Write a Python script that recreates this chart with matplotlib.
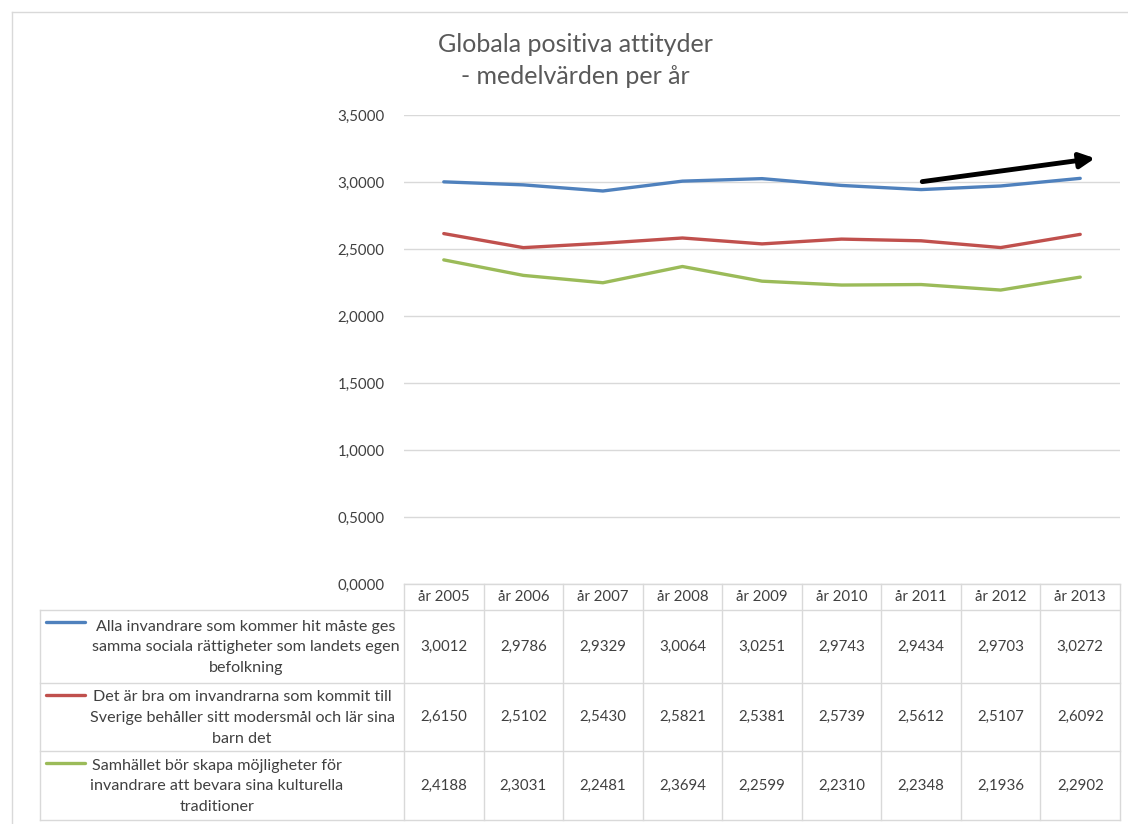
import matplotlib
matplotlib.use("Agg")
import matplotlib.pyplot as plt
from matplotlib.lines import Line2D
from matplotlib.transforms import blended_transform_factory

plt.rcParams['font.family'] = ['Lato', 'DejaVu Sans']

# data
years = ['år 2005', 'år 2006', 'år 2007', 'år 2008', 'år 2009',
         'år 2010', 'år 2011', 'år 2012', 'år 2013']
series_names = [
    'Alla invandrare som kommer hit måste ges\nsamma sociala rättigheter som landets egen\nbefolkning',
    'Det är bra om invandrarna som kommit till\nSverige behåller sitt modersmål och lär sina\nbarn det',
    'Samhället bör skapa möjligheter för\ninvandrare att bevara sina kulturella\ntraditioner',
]
rattigheter = [3.0012, 2.9786, 2.9329, 3.0064, 3.0251, 2.9743, 2.9434, 2.9703, 3.0272]
modersmal = [2.6150, 2.5102, 2.5430, 2.5821, 2.5381, 2.5739, 2.5612, 2.5107, 2.6092]
traditioner = [2.4188, 2.3031, 2.2481, 2.3694, 2.2599, 2.2310, 2.2348, 2.1936, 2.2902]
yticks = [0, 0.5, 1.0, 1.5, 2.0, 2.5, 3.0, 3.5]

series = [rattigheter, modersmal, traditioner]
colors = ['#4F81BD', '#C0504D', '#9BBB59']
grid_c = '#D9D9D9'
text_c = '#404040'

W, H = 1128, 824
fig = plt.figure(figsize=(W / 100, H / 100), dpi=100)


def px(x):
    return x / W


def py(y):
    return 1 - y / H


# chart area border (left and top)
fig.add_artist(Line2D([px(12), px(12)], [py(12), py(830)], color=grid_c, lw=1))
fig.add_artist(Line2D([px(12), px(1130)], [py(12), py(12)], color=grid_c, lw=1))

ax_l, ax_r, ax_t, ax_b = 404, 1120, 115, 584
ax = fig.add_axes([px(ax_l), py(ax_b), px(ax_r - ax_l), py(ax_t) - py(ax_b)])
x = list(range(len(years)))
for vals, c in zip(series, colors):
    ax.plot(x, vals, color=c, lw=2.4, solid_capstyle='round')
ax.set_xlim(-0.5, len(years) - 0.5)
ax.set_ylim(0, 3.5)
ax.set_yticks(yticks)
ax.set_yticklabels([f'{v:.4f}'.replace('.', ',') for v in yticks],
                   fontsize=10.8, color=text_c)
ax.yaxis.grid(True, color=grid_c, lw=1)
ax.set_axisbelow(True)
ax.set_xticks([])
ax.tick_params(axis='y', length=0, pad=14)
for s in ax.spines.values():
    s.set_visible(False)

# trend arrow
ax.annotate('', xy=(8.22, 3.18), xytext=(5.98, 3.0),
            arrowprops=dict(arrowstyle='-|>,head_length=0.9,head_width=0.45',
                            color='black', lw=3.5))

# title
fig.text(px(575), py(45), 'Globala positiva attityder', ha='center', va='center',
         fontsize=18, color='#595959')
fig.text(px(575), py(76), '- medelvärden per år', ha='center', va='center',
         fontsize=18, color='#595959')

# data table
row_edges = [584, 610, 683, 751, 820]
leg_l = 40
tr = blended_transform_factory(ax.transData, fig.transFigure)


def hline(x0, x1, y):
    fig.add_artist(Line2D([px(x0), px(x1)], [py(y), py(y)], color=grid_c, lw=1))


def vline(xx, y0, y1):
    fig.add_artist(Line2D([px(xx), px(xx)], [py(y0), py(y1)], color=grid_c, lw=1))


hline(ax_l, ax_r, row_edges[0])
for y in row_edges[1:]:
    hline(leg_l, ax_r, y)
vline(leg_l, row_edges[1], row_edges[-1])
col_w = (ax_r - ax_l) / len(years)
for i in range(len(years) + 1):
    vline(ax_l + i * col_w, row_edges[0], row_edges[-1])

for i, yr in enumerate(years):
    ax.text(i, py((row_edges[0] + row_edges[1]) / 2), yr, transform=tr,
            ha='center', va='center', fontsize=10.8, color=text_c)

legend_cx = [246, 242, 217]
for r, (name, vals, c) in enumerate(zip(series_names, series, colors)):
    y0, y1 = row_edges[r + 1], row_edges[r + 2]
    ym = (y0 + y1) / 2
    for i, v in enumerate(vals):
        ax.text(i, py(ym), f'{v:.4f}'.replace('.', ','), transform=tr,
                ha='center', va='center', fontsize=10.8, color=text_c)
    fig.text(px(legend_cx[r]), py(ym + 1), name, ha='center', va='center',
             multialignment='center', fontsize=11.6, color=text_c, linespacing=1.62)
    fig.add_artist(Line2D([px(46), px(85)], [py(y0 + 12), py(y0 + 12)],
                          color=c, lw=2.4, solid_capstyle='round'))

fig.savefig('out.png', dpi=100)
